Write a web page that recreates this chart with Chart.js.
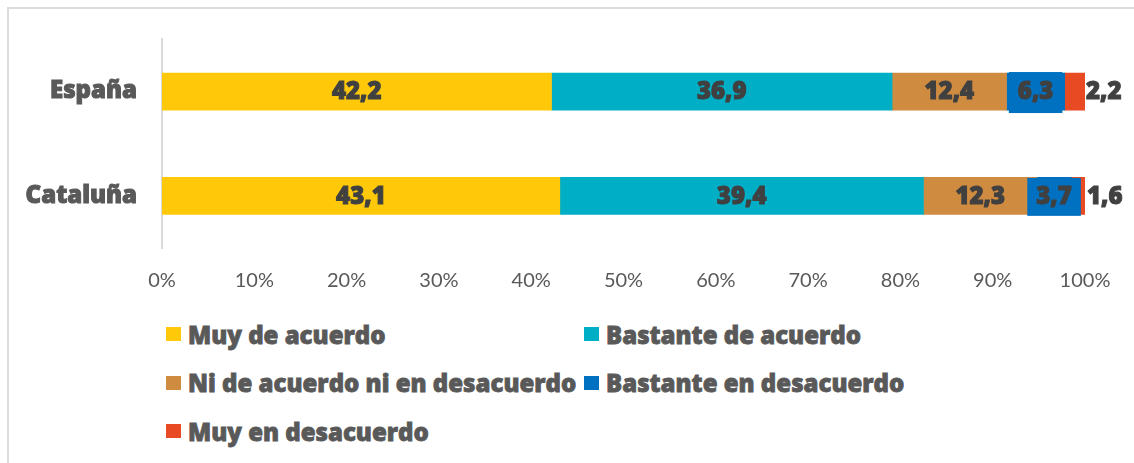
<!DOCTYPE html>
<html lang="es">
<head>
<meta charset="utf-8">
<title>Grado de acuerdo</title>
<script src="https://cdn.jsdelivr.net/npm/chart.js@4/dist/chart.umd.min.js"></script>
<style>
  html, body { margin: 0; padding: 0; background: #fff; }
  body { width: 1134px; height: 463px; position: relative; overflow: hidden; }
  .frame {
    position: absolute; left: 7px; top: 7px; right: -4px; bottom: -4px;
    border-top: 2px solid #dcdcdc; border-left: 2px solid #dcdcdc;
  }
  .chart-box { position: absolute; left: 0; top: 0; width: 1134px; height: 300px; }
  #legend {
    position: absolute; left: 166px; top: 310px;
    display: grid; grid-template-columns: 418px 418px; grid-auto-rows: 48.5px;
    font-family: 'Open Sans', sans-serif; font-weight: 800; font-size: 24px; color: #595959;
    -webkit-text-stroke: 0.8px #595959;
  }
  .leg-item { display: flex; align-items: center; white-space: nowrap; }
  .leg-box { width: 15px; height: 14px; margin-right: 7px; flex: none; }
</style>
</head>
<body>
<div class="frame"></div>
<div class="chart-box"><canvas id="chart"></canvas></div>
<div id="legend"></div>
<script>
const categories = ['España', 'Cataluña'];
const seriesNames = [
  'Muy de acuerdo',
  'Bastante de acuerdo',
  'Ni de acuerdo ni en desacuerdo',
  'Bastante en desacuerdo',
  'Muy en desacuerdo'
];
const muyAcuerdo = [42.2, 43.1];
const bastanteAcuerdo = [36.9, 39.4];
const niNi = [12.4, 12.3];
const bastanteDesacuerdo = [6.3, 3.7];
const muyDesacuerdo = [2.2, 1.6];
const xTicks = [0, 10, 20, 30, 40, 50, 60, 70, 80, 90, 100];

const colors = ['#ffc90a', '#00aec6', '#cf8c40', '#0070c0', '#e84a23'];
const seriesValues = [muyAcuerdo, bastanteAcuerdo, niNi, bastanteDesacuerdo, muyDesacuerdo];

const fmt = (v) => v.toFixed(1).replace('.', ',');

// value labels: centred in the segment, boxed for the blue one, outside for the last
const valueLabels = {
  id: 'valueLabels',
  afterDatasetsDraw(chart) {
    const ctx = chart.ctx;
    const last = chart.data.datasets.length - 1;
    ctx.save();
    ctx.font = "800 24px 'Open Sans'";
    ctx.textBaseline = 'middle';
    ctx.lineWidth = 1;
    ctx.strokeStyle = '#404040';
    chart.data.datasets.forEach((ds, i) => {
      chart.getDatasetMeta(i).data.forEach((bar, j) => {
        const text = fmt(ds.data[j]);
        const y = bar.y + 1;
        let x = (bar.x + bar.base) / 2;
        ctx.textAlign = 'center';
        if (i === last) {
          ctx.textAlign = 'left';
          x = bar.x + 1;
        } else if (i === 3) {
          const w = ctx.measureText(text).width + 18;
          const h = j === 0 ? 41 : 38;
          ctx.fillStyle = ds.backgroundColor;
          ctx.fillRect(x - w / 2, bar.y - h / 2 + 1, w, h);
        }
        ctx.fillStyle = '#404040';
        ctx.fillText(text, x, y);
        ctx.strokeText(text, x, y);
      });
    });
    ctx.restore();
  }
};

const chart = new Chart(document.getElementById('chart'), {
  type: 'bar',
  data: {
    labels: categories,
    datasets: seriesNames.map((name, i) => ({
      label: name,
      data: seriesValues[i],
      backgroundColor: colors[i],
      borderWidth: 0,
      barThickness: 37
    }))
  },
  options: {
    indexAxis: 'y',
    responsive: true,
    maintainAspectRatio: false,
    animation: false,
    layout: { padding: { top: 38, right: 49, left: 0, bottom: 0 } },
    plugins: { legend: { display: false }, tooltip: { enabled: false } },
    scales: {
      x: {
        stacked: true,
        min: 0,
        max: 100,
        afterBuildTicks: (scale) => { scale.ticks = xTicks.map((v) => ({ value: v })); },
        afterFit: (scale) => { scale.height = 52; },
        grid: { display: false, drawTicks: false },
        border: { display: false },
        ticks: {
          padding: 21,
          color: '#595959',
          font: { family: 'Lato', size: 20 },
          callback: (v) => v + '%'
        }
      },
      y: {
        stacked: true,
        afterFit: (scale) => { scale.width = 162; },
        grid: { display: false, drawTicks: false },
        border: { display: true, color: '#d9d9d9', width: 2 },
        ticks: {
          padding: 25,
          color: '#595959',
          textStrokeColor: '#595959',
          textStrokeWidth: 1,
          font: { family: 'Open Sans', size: 24, weight: '800' }
        }
      }
    }
  },
  plugins: [valueLabels]
});

// legend in two columns, built from the same series
const legend = document.getElementById('legend');
legend.innerHTML = seriesNames
  .map((name, i) => `
    <div class="leg-item"><span class="leg-box" style="background:${colors[i]}"></span>${name}</div>`)
  .join('');
</script>
</body>
</html>
